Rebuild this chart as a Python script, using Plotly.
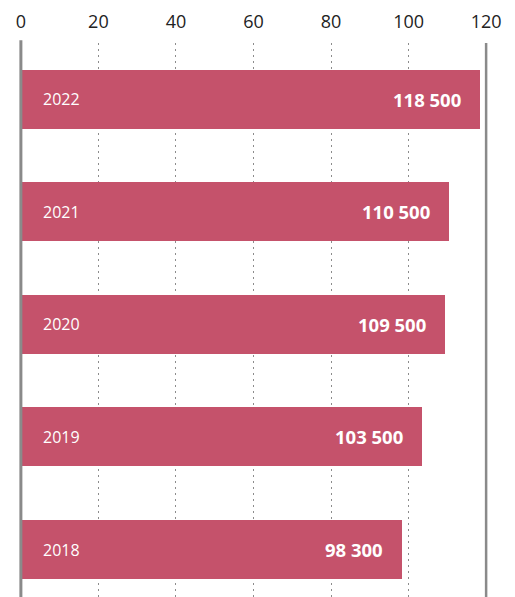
import plotly.graph_objects as go

years = ["2018", "2019", "2020", "2021", "2022"]
values = [98.3, 103.5, 109.5, 110.5, 118.5]
value_labels = ["98 300", "103 500", "109 500", "110 500", "118 500"]
tick_vals = [0, 20, 40, 60, 80, 100, 120]

pos = list(range(len(years)))
bar_color = "#c5526b"
font_family = "'Open Sans', Lato, sans-serif"

fig = go.Figure()
fig.add_trace(go.Bar(
    x=values, y=pos, orientation="h", marker=dict(color=bar_color, line=dict(width=0)),
    width=0.525, hoverinfo="skip", showlegend=False,
))

annotations = []
for p, y, v, lab in zip(pos, years, values, value_labels):
    annotations.append(dict(x=0, y=p, xref="x", yref="y", text=y, showarrow=False,
                            xanchor="left", xshift=20,
                            font=dict(family=font_family, size=16, color="white")))
    annotations.append(dict(x=v, y=p, xref="x", yref="y", text="<b>" + lab + "</b>", showarrow=False,
                            xanchor="right", xshift=-17,
                            font=dict(family=font_family, size=18.5, color="white")))

shapes = [
    dict(type="line", xref="x", yref="paper", x0=0, x1=0, y0=0, y1=1.005,
         line=dict(color="#8a8a8a", width=3), layer="above"),
    dict(type="line", xref="x", yref="paper", x0=120, x1=120, y0=0, y1=1,
         line=dict(color="#8a8a8a", width=2.5), layer="above"),
]

fig.update_layout(
    width=507, height=589,
    margin=dict(l=9, r=25, t=35, b=0),
    paper_bgcolor="white", plot_bgcolor="white",
    bargap=0,
    xaxis=dict(side="top", range=[-1, 121], tickvals=tick_vals,
               ticktext=[str(t) for t in tick_vals],
               showgrid=True, gridcolor="#8c8c8c", gridwidth=1, griddash="2px,4px",
               zeroline=False, showline=False,
               ticks="outside", ticklen=7, tickcolor="rgba(0,0,0,0)",
               tickfont=dict(family=font_family, size=18, color="#222222"),
               fixedrange=True),
    yaxis=dict(range=[-0.422, 4.5], showticklabels=False, showgrid=False,
               zeroline=False, showline=False, fixedrange=True),
    annotations=annotations,
    shapes=shapes,
)

fig.write_html("out.html", config={"displayModeBar": False})
